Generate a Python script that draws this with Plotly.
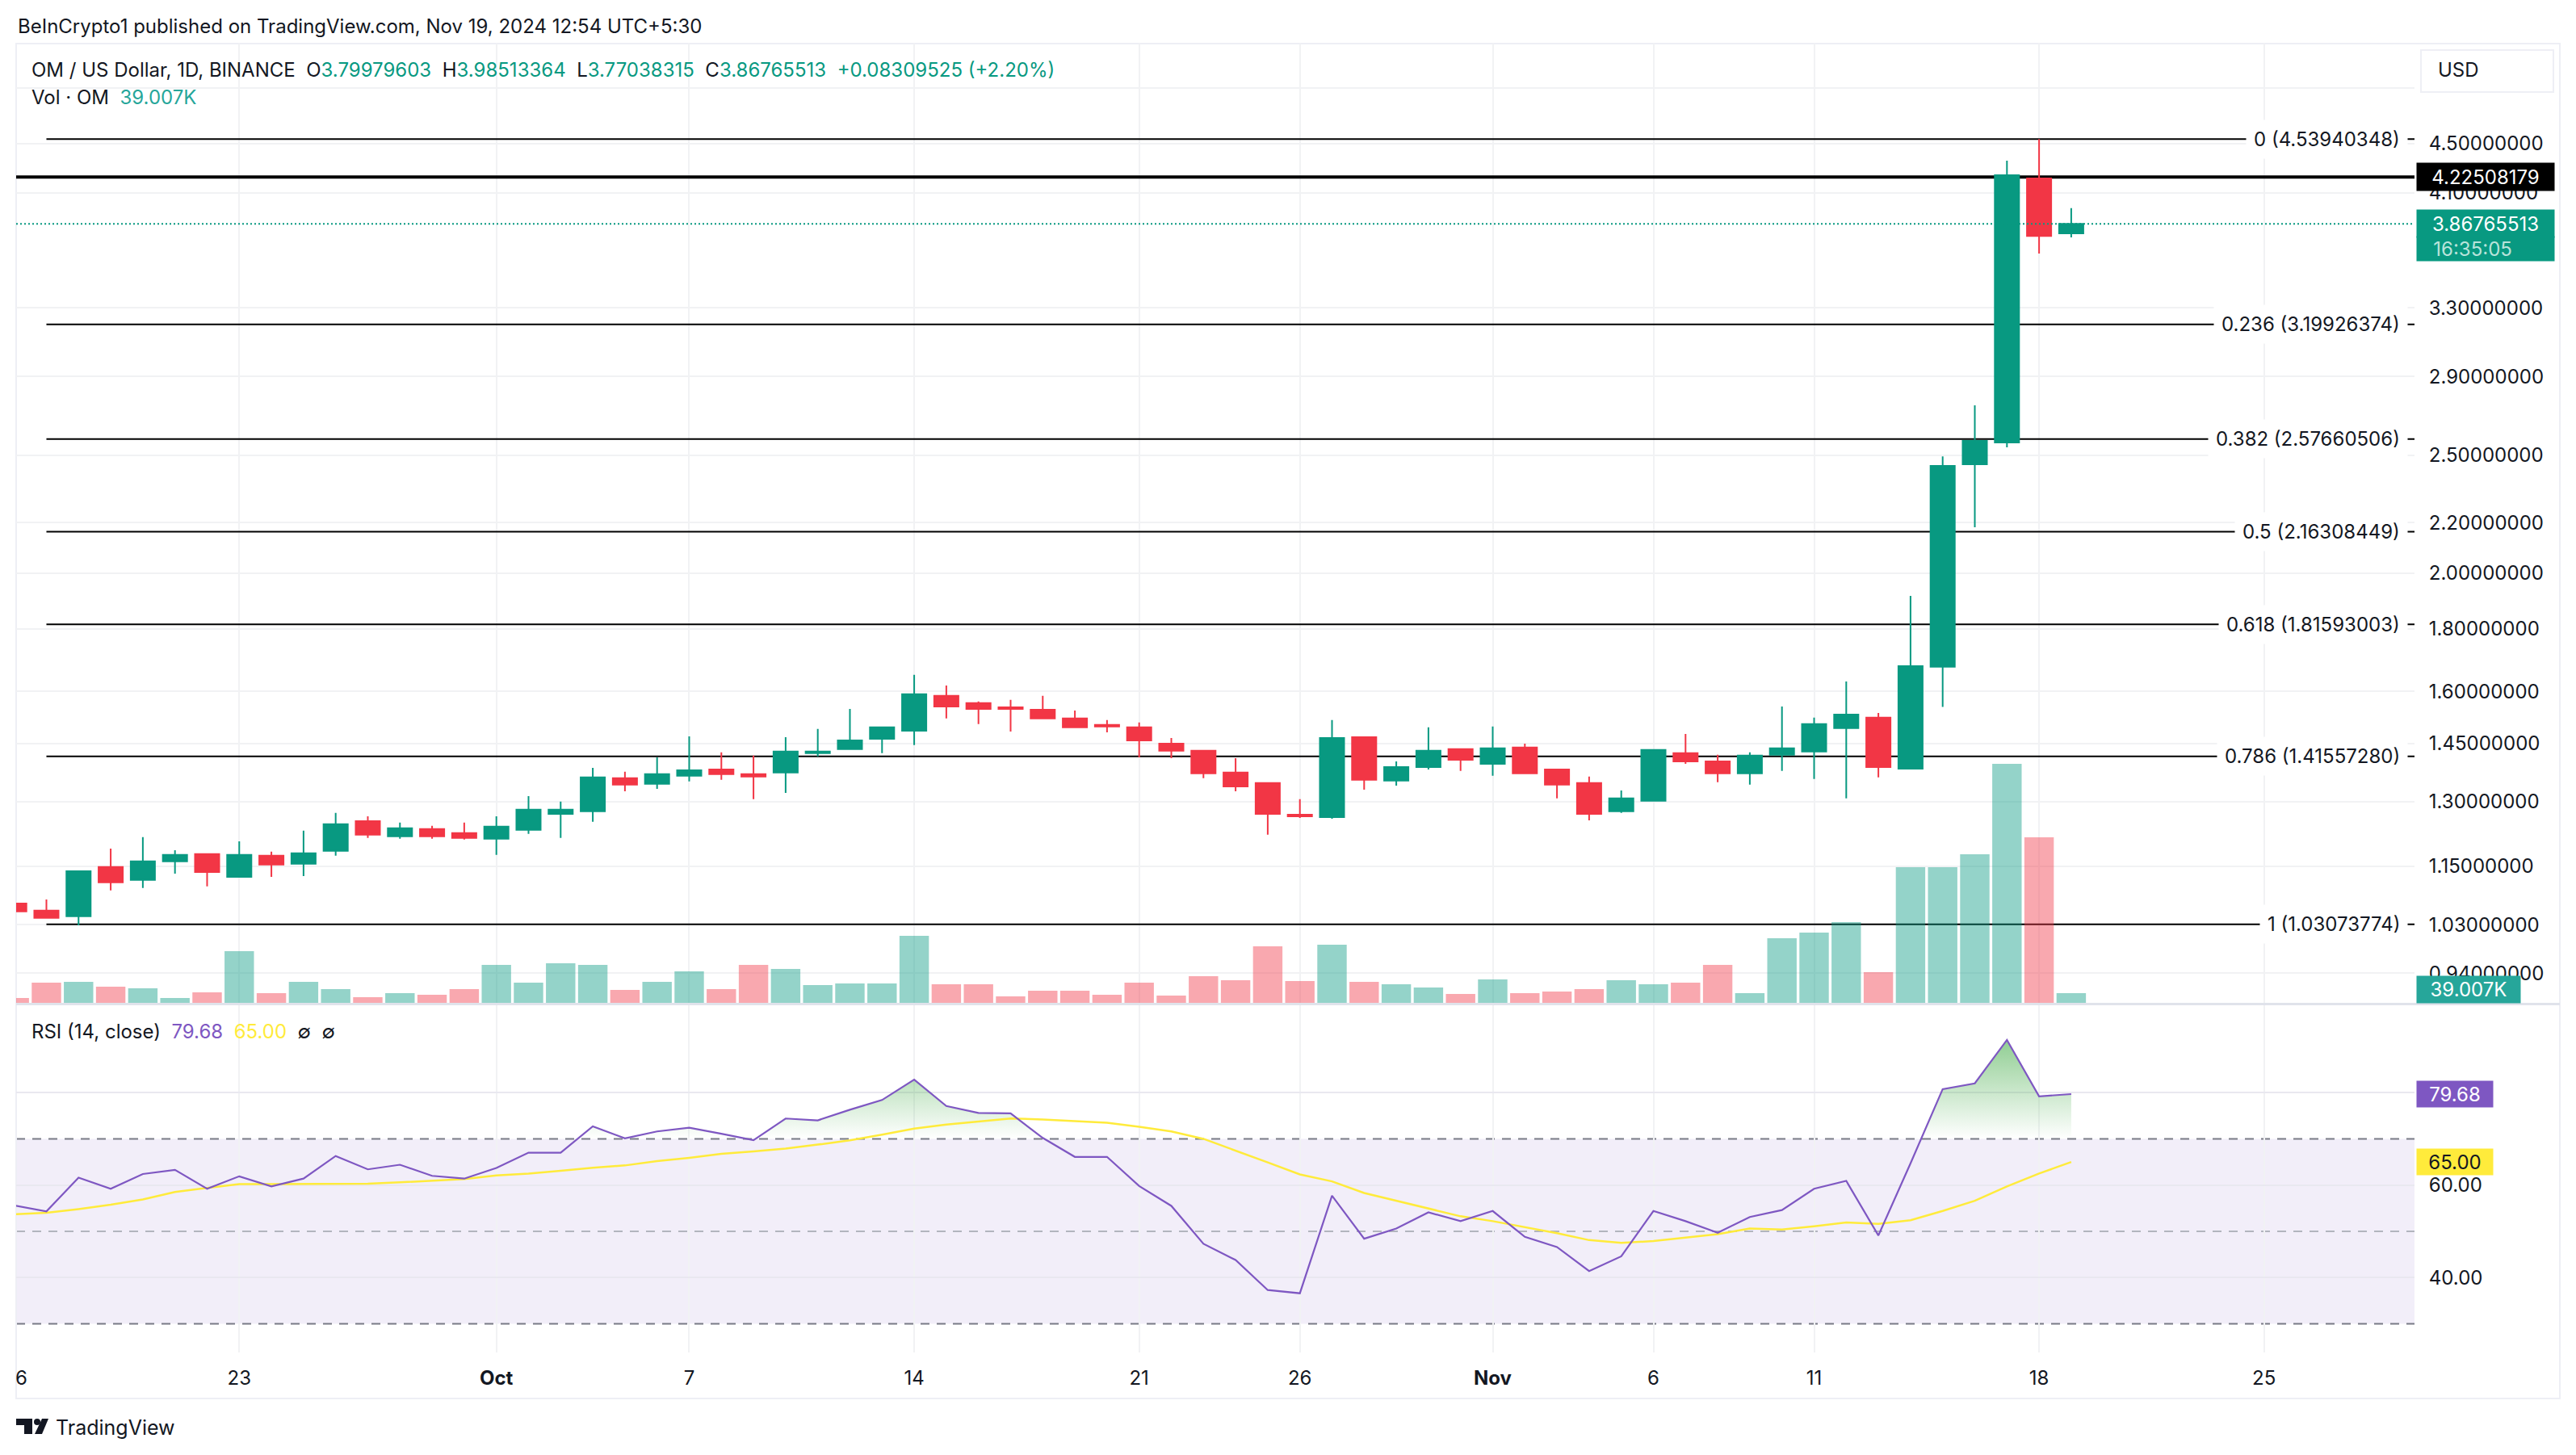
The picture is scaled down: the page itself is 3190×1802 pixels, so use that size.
import math
import pandas as pd
import plotly.graph_objects as go

# daily candles, 16 Sep - 19 Nov 2024
dates = pd.date_range("2024-09-16", "2024-11-19", freq="D")

opens = [1.0722, 1.0578, 1.0465, 1.1484, 1.1208, 1.1608, 1.1768, 1.1275, 1.1733, 1.1555, 1.1840, 1.2525, 1.2170, 1.2338, 1.2245,
         1.2114, 1.2319, 1.2699, 1.2758, 1.3581, 1.3436, 1.3643, 1.3809, 1.3685, 1.3726, 1.4238, 1.4347, 1.4631, 1.4858, 1.5867, 1.5650,
         1.5529, 1.5456, 1.5203, 1.5019, 1.4950, 1.4500, 1.4303, 1.3726, 1.3457, 1.2679, 1.2620, 1.4675, 1.3519, 1.3871, 1.4347,
         1.3955, 1.4391, 1.3809, 1.3457, 1.2758, 1.3014, 1.4238, 1.4020, 1.3705, 1.4194, 1.4282, 1.4927, 1.5225, 1.3830, 1.6765, 2.457, 2.560, 4.214, 3.79979603]
highs = [1.0740, 1.0802, 1.1394, 1.1893, 1.2151, 1.1857, 1.1786, 1.2057, 1.1822, 1.2301, 1.2719, 1.2640, 1.2488, 1.2413, 1.2488,
         1.2640, 1.3132, 1.2994, 1.3850, 1.3747, 1.4129, 1.4698, 1.4260, 1.4173, 1.4675, 1.4904, 1.5480, 1.4973, 1.6508, 1.6182, 1.5698,
         1.5746, 1.5867, 1.5432, 1.5157, 1.5088, 1.4652, 1.4303, 1.4107, 1.3457, 1.3053, 1.5157, 1.4675, 1.4020, 1.4950, 1.4369,
         1.4973, 1.4500, 1.3830, 1.3623, 1.3271, 1.4347, 1.4766, 1.4194, 1.4260, 1.5553, 1.5225, 1.6306, 1.5363, 1.916, 2.494, 2.746, 4.358, 4.53940348, 3.98513364]
lows = [1.0540, 1.0433, 1.0289, 1.0988, 1.1039, 1.1343, 1.1072, 1.1259, 1.1275, 1.1292, 1.1733, 1.2132, 1.2114, 1.2114, 1.2095,
        1.1751, 1.2226, 1.2132, 1.2507, 1.3250, 1.3312, 1.3498, 1.3540, 1.3053, 1.3211, 1.4151, 1.4325, 1.4238, 1.4456, 1.5203, 1.5042,
        1.4835, 1.5180, 1.4950, 1.4812, 1.4129, 1.4107, 1.3581, 1.3250, 1.2207, 1.2601, 1.2581, 1.3291, 1.3395, 1.3809, 1.3768,
        1.3643, 1.3705, 1.3073, 1.2544, 1.2719, 1.3014, 1.3955, 1.3478, 1.3416, 1.3768, 1.3560, 1.3073, 1.3602, 1.3830, 1.5537, 2.181, 2.537, 3.658, 3.77038315]
closes = [1.0562, 1.0433, 1.1394, 1.1157, 1.1608, 1.1751, 1.1377, 1.1751, 1.1537, 1.1786, 1.2450, 1.2207, 1.2357, 1.2170, 1.2132,
          1.2394, 1.2797, 1.2797, 1.3602, 1.3416, 1.3685, 1.3788, 1.3685, 1.3623, 1.4282, 1.4282, 1.4587, 1.4950, 1.5916, 1.5553, 1.5480,
          1.5480, 1.5203, 1.4950, 1.4973, 1.4587, 1.4303, 1.3705, 1.3374, 1.2699, 1.2640, 1.4652, 1.3540, 1.3871, 1.4303, 1.4064,
          1.4369, 1.3705, 1.3416, 1.2699, 1.3073, 1.4325, 1.4020, 1.3705, 1.4173, 1.4369, 1.5042, 1.5317, 1.3871, 1.6783, 2.449, 2.568, 4.240, 3.78, 3.86765513]

# volume in thousands of OM
volumes = [19.5, 81.3, 84.5, 65.0, 58.5, 19.5, 42.3, 208, 39, 84.5, 55.3, 22.8, 39, 32.5, 55.3,
           152.8, 81.3, 159.3, 152.8, 52, 84.5, 126.8, 55.3, 152.8, 136.5, 71.5, 78, 78, 269.8, 74.8, 74.8,
           26, 48.8, 48.8, 32.5, 81.3, 29.3, 107.3, 91, 227.6, 87.8, 234, 84.5, 74.8, 61.8, 35.8,
           94.3, 39, 45.5, 55.3, 91, 74.8, 81.3, 152.8, 39, 260, 282.8, 325, 123.5, 546, 546, 598, 962, 666, 39.007]

rsi = [55.6, 54.3, 61.6, 59.2, 62.4, 63.3, 59.2, 61.9, 59.7, 61.4, 66.3, 63.4, 64.4, 62, 61.4,
       63.7, 67, 67, 72.7, 70.1, 71.6, 72.4, 71.1, 69.7, 74.4, 74, 76.3, 78.4, 82.8, 77.1, 75.6,
       75.5, 70.2, 66.1, 66.1, 59.8, 55.5, 47.3, 43.8, 37.3, 36.6, 57.7, 48.4, 50.6, 54.1, 52.2,
       54.4, 48.8, 46.6, 41.4, 44.6, 54.4, 52.2, 49.7, 53.1, 54.6, 59.2, 60.9, 49.1, 64.7, 80.75, 82, 91.4, 79.2, 79.68]
rsi_ma = [53.7, 54, 54.8, 55.75, 56.9, 58.5, 59.4, 60.2, 60.2, 60.25, 60.25, 60.3, 60.6, 60.9, 61.3,
          62.1, 62.5, 63.1, 63.75, 64.25, 65.2, 65.9, 66.75, 67.3, 67.9, 68.75, 69.7, 70.9, 72.2, 73.1, 73.75,
          74.4, 74.2, 73.9, 73.5, 72.6, 71.6, 70, 67.5, 64.9, 62.3, 60.8, 58.3, 56.6, 55, 53.25,
          52.2, 50.9, 49.6, 48.1, 47.5, 47.9, 48.6, 49.4, 50.6, 50.4, 51.1, 51.9, 51.6, 52.4, 54.4, 56.6, 59.7, 62.5, 65.0]

fib_ratios = ["0", "0.236", "0.382", "0.5", "0.618", "0.786", "1"]
fib_prices = [4.53940348, 3.19926374, 2.57660506, 2.16308449, 1.81593003, 1.41557280, 1.03073774]
fib_start = "2024-09-17"
resistance = 4.22508179
last_close = 3.86765513

price_ticks = [5.0, 4.5, 4.1, 3.3, 2.9, 2.5, 2.2, 2.0, 1.8, 1.6, 1.45, 1.3, 1.15, 1.03, 0.94]
rsi_ticks = [80, 60, 40]
x_tick_dates = ["2024-09-23", "2024-10-01", "2024-10-07", "2024-10-14", "2024-10-21", "2024-10-26",
                "2024-11-01", "2024-11-06", "2024-11-11", "2024-11-18", "2024-11-25"]
x_tick_labels = ["23", "<b>Oct</b>", "7", "14", "21", "26", "<b>Nov</b>", "6", "11", "18", "25"]

GREEN = "#089981"
RED = "#F23645"
TEAL = "#26a69a"
PURPLE = "#7E57C2"
YELLOW = "#FFEB3B"
INK = "#131722"
GRID = "#f1f2f4"
BORDER = "#eeeff5"
FONT = "Inter"

X_RANGE = ["2024-09-16 01:24", "2024-11-29 16:20"]
PRICE_RANGE = [-0.0519, 0.7353]
VOL_RANGE = [-3.25, 3861]
RSI_RANGE = [23.8, 98.9]

# the page keeps the browser's 8px body margin, so the figure is drawn that much smaller and up-left
PAGE = 8
W, H = 3190 - PAGE, 1802 - PAGE
L, R, T, B = 20, 2990, 54, 1675


def fx(x):
    return (x - L) / (R - L)


def fy(y):
    return (B - y) / (B - T)


def teal(s):
    return f"<span style='color:{GREEN}'>{s}</span>"


fig = go.Figure()

# fibonacci levels sit on the bottom price axis so volume and candles cover them
for p in fib_prices:
    fig.add_trace(go.Scatter(x=[fib_start, X_RANGE[1]], y=[p, p], mode="lines", yaxis="y",
                             line=dict(color="#000000", width=2), hoverinfo="skip"))
fig.add_trace(go.Scatter(x=X_RANGE, y=[resistance, resistance], mode="lines", yaxis="y",
                         line=dict(color="#000000", width=4), hoverinfo="skip"))

bar_colors = [GREEN if c >= o else RED for o, c in zip(opens, closes)]
fig.add_trace(go.Bar(x=dates, y=volumes, yaxis="y2", marker=dict(color=bar_colors, opacity=0.43, line_width=0),
                     hoverinfo="skip"))

fig.add_trace(go.Candlestick(x=dates, open=opens, high=highs, low=lows, close=closes, yaxis="y3",
                             increasing=dict(line=dict(color=GREEN, width=2), fillcolor=GREEN),
                             decreasing=dict(line=dict(color=RED, width=2), fillcolor=RED),
                             whiskerwidth=0, hoverinfo="skip"))
fig.add_trace(go.Scatter(x=X_RANGE, y=[last_close, last_close], mode="lines", yaxis="y3",
                         line=dict(color=GREEN, width=2, dash="2px,3px"), hoverinfo="skip"))

# overbought area: rsi clipped at 70, with the crossing points added
fill_x, fill_y = [], []
for i in range(len(rsi)):
    if i > 0 and (rsi[i - 1] - 70) * (rsi[i] - 70) < 0:
        t = (70 - rsi[i - 1]) / (rsi[i] - rsi[i - 1])
        fill_x.append(dates[i - 1] + (dates[i] - dates[i - 1]) * t)
        fill_y.append(70)
    fill_x.append(dates[i])
    fill_y.append(max(rsi[i], 70))

fig.add_trace(go.Scatter(x=fill_x, y=[70] * len(fill_x), mode="lines", yaxis="y4",
                         line=dict(width=0), hoverinfo="skip"))
fig.add_trace(go.Scatter(x=fill_x, y=fill_y, mode="lines", yaxis="y4", fill="tonexty", line=dict(width=0),
                         fillgradient=dict(type="vertical", start=70, stop=max(rsi),
                                           colorscale=[[0, "rgba(76,175,80,0)"], [1, "rgba(76,175,80,0.62)"]]),
                         hoverinfo="skip"))
fig.add_trace(go.Scatter(x=dates, y=rsi_ma, mode="lines", yaxis="y4",
                         line=dict(color=YELLOW, width=2.5), hoverinfo="skip"))
fig.add_trace(go.Scatter(x=dates, y=rsi, mode="lines", yaxis="y4",
                         line=dict(color=PURPLE, width=2.2), hoverinfo="skip"))

fig.update_layout(
    width=W, height=H, paper_bgcolor="white", plot_bgcolor="white", showlegend=False,
    margin=dict(l=L - PAGE, r=W + PAGE - R, t=T - PAGE, b=H + PAGE - B, pad=0),
    bargap=0.085, boxgap=0.246, boxgroupgap=0,
    font=dict(family=FONT, size=24, color=INK),
    xaxis=dict(type="date", range=X_RANGE, anchor="y4", rangeslider=dict(visible=False),
               tickmode="array", tickvals=x_tick_dates, ticktext=x_tick_labels,
               showgrid=True, gridcolor=GRID, gridwidth=1.5, zeroline=False, showline=False,
               ticks="outside", ticklen=10, tickcolor="rgba(0,0,0,0)",
               tickfont=dict(family=FONT, size=24, color=INK)),
    yaxis=dict(type="log", domain=[0.2665, 1], range=PRICE_RANGE, side="right", anchor="x",
               tickmode="array", tickvals=price_ticks,
               ticktext=["" if v == 5.0 else f"{v:.8f}" for v in price_ticks],
               showgrid=True, gridcolor=GRID, gridwidth=2, zeroline=False, showline=False,
               ticks="outside", ticklen=12, tickcolor="rgba(0,0,0,0)",
               tickfont=dict(family=FONT, size=24, color=INK)),
    yaxis2=dict(overlaying="y", range=VOL_RANGE, visible=False, side="right"),
    yaxis3=dict(overlaying="y", type="log", range=PRICE_RANGE, visible=False, side="right"),
    yaxis4=dict(domain=[0, 0.2653], range=RSI_RANGE, side="right", anchor="x",
                tickmode="array", tickvals=rsi_ticks,
                ticktext=["" if v == 80 else f"{v:.2f}" for v in rsi_ticks],
                showgrid=True, gridcolor="#e9e8f0", gridwidth=2, zeroline=False, showline=False,
                ticks="outside", ticklen=12, tickcolor="rgba(0,0,0,0)",
                tickfont=dict(family=FONT, size=24, color=INK)),
)

# rsi band and its dashed limits
fig.add_shape(type="rect", xref="x domain", yref="y4", x0=0, x1=1, y0=30, y1=70, layer="below",
              fillcolor="rgba(126,87,194,0.10)", line_width=0)
for level, color in [(70, "#787b86"), (50, "#b2b5be"), (30, "#787b86")]:
    fig.add_shape(type="line", xref="x domain", yref="y4", x0=0, x1=1, y0=level, y1=level, layer="below",
                  line=dict(color=color, width=2, dash="11px,9px"))

# frame, pane separator, currency button, logo
fig.add_shape(type="rect", xref="paper", yref="paper", x0=fx(20), x1=fx(3170), y0=fy(1732), y1=fy(54),
              line=dict(color=BORDER, width=2), layer="below")
fig.add_shape(type="line", xref="paper", yref="paper", x0=fx(20), x1=fx(3170), y0=fy(1243.5), y1=fy(1243.5),
              line=dict(color="#e0e3eb", width=3))
bx0, bx1, by0, by1 = fx(2998), fx(3162), fy(62), fy(114)
fig.add_shape(type="rect", xref="paper", yref="paper", x0=bx0, x1=bx1, y0=by0, y1=by1,
              fillcolor="white", line=dict(color=BORDER, width=2))
logo = (f"M {fx(20)} {fy(1757)} L {fx(40)} {fy(1757)} L {fx(40)} {fy(1776)} L {fx(30)} {fy(1776)} "
        f"L {fx(30)} {fy(1765)} L {fx(20)} {fy(1765)} Z "
        f"M {fx(52)} {fy(1757)} L {fx(60)} {fy(1757)} L {fx(52)} {fy(1776)} L {fx(43)} {fy(1776)} Z")
fig.add_shape(type="path", xref="paper", yref="paper", path=logo, fillcolor=INK, line_width=0)
fig.add_shape(type="circle", xref="paper", yref="paper", x0=fx(42), x1=fx(50), y0=fy(1765), y1=fy(1757),
              fillcolor=INK, line_width=0)


def note(text, x, y, anchor="left", size=24, color=INK, **kw):
    fig.add_annotation(text=text, xref="paper", yref="paper", x=fx(x), y=fy(y), xanchor=anchor, yanchor="middle",
                       showarrow=False, font=dict(family=FONT, size=size, color=color), **kw)


def tag(text, value, yref, width, height, bg, color="white", yshift=0, xshift=2, align="center"):
    fig.add_annotation(text=text, xref="paper", yref=yref, x=1, y=value, xanchor="left", yanchor="middle",
                       xshift=xshift, yshift=yshift, width=width, height=height, bgcolor=bg, borderpad=0,
                       align=align, valign="middle", showarrow=False,
                       font=dict(family=FONT, size=24, color=color))


note("BeInCrypto1 published on TradingView.com, Nov 19, 2024 12:54 UTC+5:30", 20, 32)
note("OM / US Dollar, 1D, BINANCE&nbsp;&nbsp;"
     f"O{teal('3.79979603')}&nbsp;&nbsp;H{teal('3.98513364')}&nbsp;&nbsp;"
     f"L{teal('3.77038315')}&nbsp;&nbsp;C{teal('3.86765513')}&nbsp;&nbsp;{teal('+0.08309525 (+2.20%)')}", 37, 86)
note(f"Vol · OM&nbsp;&nbsp;<span style='color:{TEAL}'>39.007K</span>", 37, 120)
note(f"RSI (14, close)&nbsp;&nbsp;<span style='color:{PURPLE}'>79.68</span>&nbsp;&nbsp;"
     f"<span style='color:{YELLOW}'>65.00</span>&nbsp;&nbsp;∅&nbsp;&nbsp;∅", 37, 1277)
note("USD", 3017, 87)
note("6", 26, 1706, anchor="center")
note("TradingView", 67, 1768, size=25)

for r, p in zip(fib_ratios, fib_prices):
    fig.add_annotation(text=f"{r} ({p:.8f})", xref="paper", yref="y", x=fx(2982), y=math.log10(p),
                       xanchor="right", yanchor="middle", showarrow=False, bgcolor="white", borderpad=9,
                       font=dict(family=FONT, size=24, color=INK))

tag(f"{resistance:.8f}", math.log10(resistance), "y", 170, 34, "#000000")
tag("&nbsp;&nbsp;&nbsp;16:35:05", math.log10(last_close), "y", 170, 30, GREEN, color="#b8e3da", yshift=-31, align="left")
tag(f"{last_close:.8f}", math.log10(last_close), "y", 170, 34, GREEN)
# the volume tag is pinned by pixels above the pane floor in the reference, hence not the bar's own value
tag("39.007K", 55, "y2", 128, 33, TEAL)
tag("79.68", 79.68, "y4", 94, 32, PURPLE)
tag("65.00", 65.0, "y4", 94, 32, YELLOW, color=INK)

fig.write_html("out.html")
